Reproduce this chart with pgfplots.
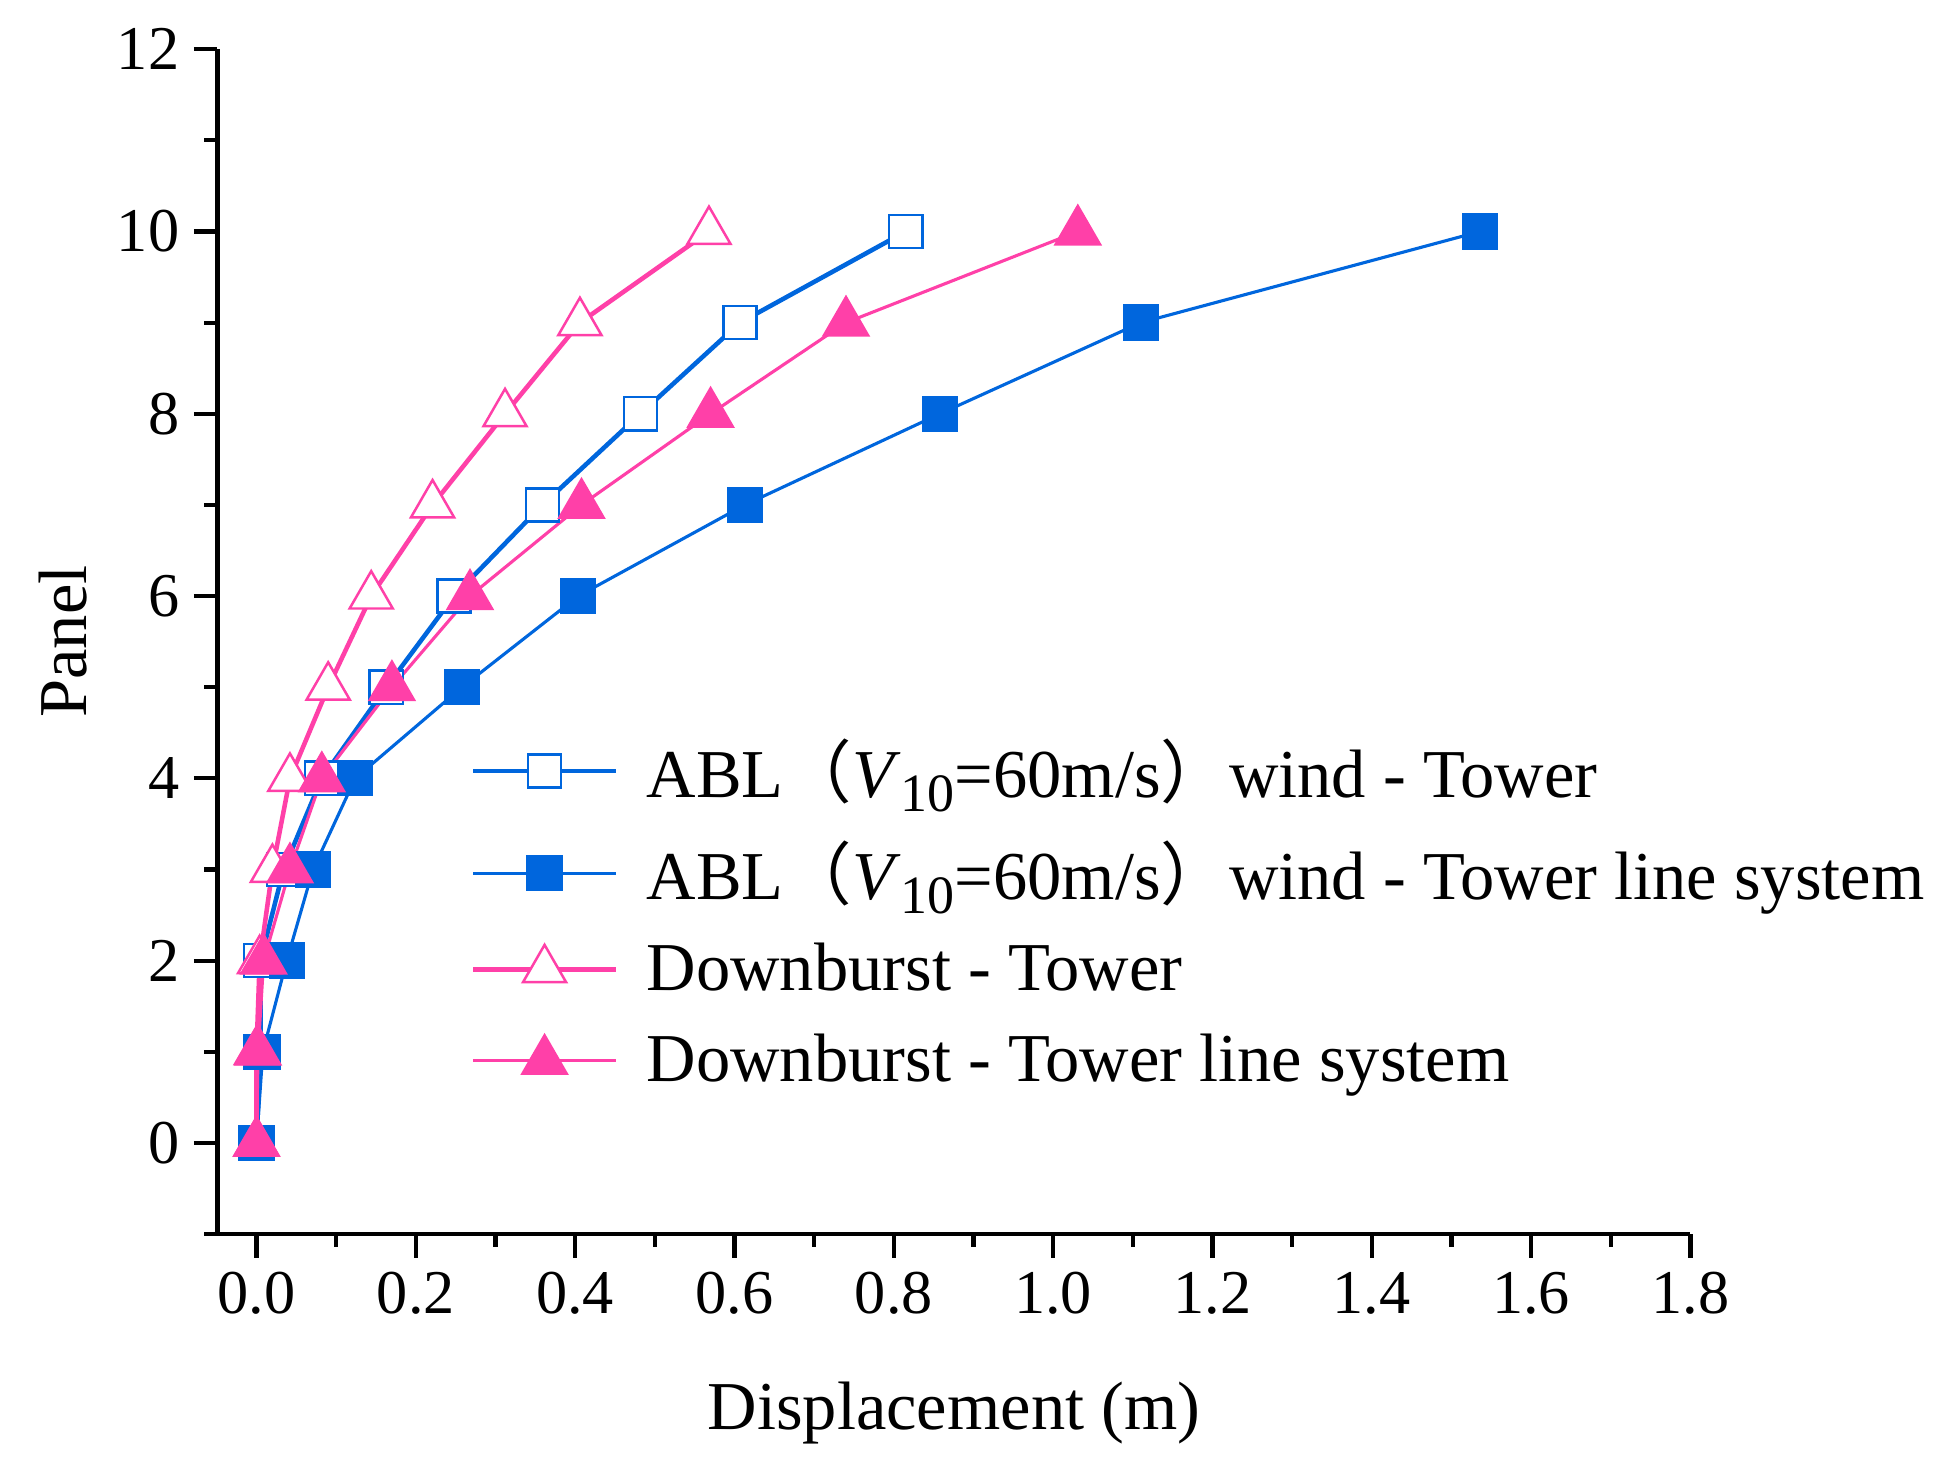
\documentclass[border=0pt]{standalone}
\usepackage{fontspec}
\setmainfont{Liberation Serif}
\newfontfamily\cjk{Noto Sans CJK SC}
\usepackage{pgfplots}
\pgfplotsset{compat=1.18}
\definecolor{cblue}{RGB}{0,102,221}
\definecolor{cpink}{RGB}{255,64,168}
\newcommand{\sub}[1]{\raisebox{-0.45ex}{\fontsize{13}{13}\selectfont #1}}
\begin{document}
\begin{tikzpicture}
\useasboundingbox (-1.841,-2.015) rectangle (14.659,10.447);
\begin{axis}[
 at={(0,0)}, anchor=south west,
 scale only axis, width=12.47cm, height=10.03cm,
 xmin=-0.049, xmax=1.8, ymin=-1, ymax=12,
 axis x line*=bottom, axis y line*=left,
 axis line style={line width=1pt},
 xtick={0,0.2,...,1.8}, minor xtick={0.1,0.3,...,1.7},
 ytick={0,2,...,12}, minor ytick={-1,1,...,11},
 tick align=outside, major tick length=0.2cm, minor tick length=0.11cm,
 every tick/.style={black, line width=1pt},
 xticklabel style={/pgf/number format/.cd, fixed, fixed zerofill, precision=1},
 /pgf/number format/assume math mode=true,
 ticklabel style={font=\fontsize{15}{18}\selectfont},
 xlabel={Displacement (m)}, ylabel={Panel},
 label style={font=\fontsize{16.5}{20}\selectfont},
 x label style={at={(axis description cs:0.5,-0.1515)}, anchor=center},
 y label style={at={(axis description cs:-0.105,0.5)}, anchor=center},
 legend style={draw=none, fill=none, at={(axis description cs:0.163,0.433)}, anchor=north west,
   font=\fontsize{16.5}{20}\selectfont, row sep=5pt,
   /tikz/every odd column/.append style={column sep=0.17cm}},
 legend cell align=left,
 legend image code/.code={
   \draw[#1, mark=none] (0cm,0cm) -- (1.21cm,0cm);
   \draw[#1, only marks] plot coordinates {(0.605cm,0cm)};
 },
]
\addplot[color=cblue, line width=1.1pt, mark=square*, mark size=4pt, mark options={solid, line width=0.6pt, fill=white}]
 coordinates {(0,0) (0.005,1) (0.005,2) (0.034,3) (0.082,4) (0.163,5) (0.248,6) (0.359,7) (0.482,8) (0.607,9) (0.815,10)};
\addlegendentry{ABL{\cjk （}\textit{V}\sub{10}=60m/s{\cjk ）}wind - Tower}
\addplot[color=cblue, line width=0.75pt, mark=square*, mark size=4pt, mark options={solid, fill=cblue}]
 coordinates {(0,0) (0.008,1) (0.038,2) (0.071,3) (0.124,4) (0.258,5) (0.404,6) (0.613,7) (0.858,8) (1.110,9) (1.536,10)};
\addlegendentry{ABL{\cjk （}\textit{V}\sub{10}=60m/s{\cjk ）}wind - Tower line system}
\addplot[color=cpink, line width=1.1pt, mark=triangle*, mark size=6pt, mark options={solid, line width=0.6pt, fill=white}]
 coordinates {(0,0) (0.0,1) (0.004,2) (0.020,3) (0.042,4) (0.090,5) (0.144,6) (0.221,7) (0.312,8) (0.406,9) (0.568,10)};
\addlegendentry{Downburst - Tower}
\addplot[color=cpink, line width=0.75pt, mark=triangle*, mark size=6pt, mark options={solid, fill=cpink}]
 coordinates {(0,0) (0.002,1) (0.009,2) (0.042,3) (0.082,4) (0.170,5) (0.268,6) (0.408,7) (0.570,8) (0.740,9) (1.031,10)};
\addlegendentry{Downburst - Tower line system}
\end{axis}
\end{tikzpicture}
\end{document}
